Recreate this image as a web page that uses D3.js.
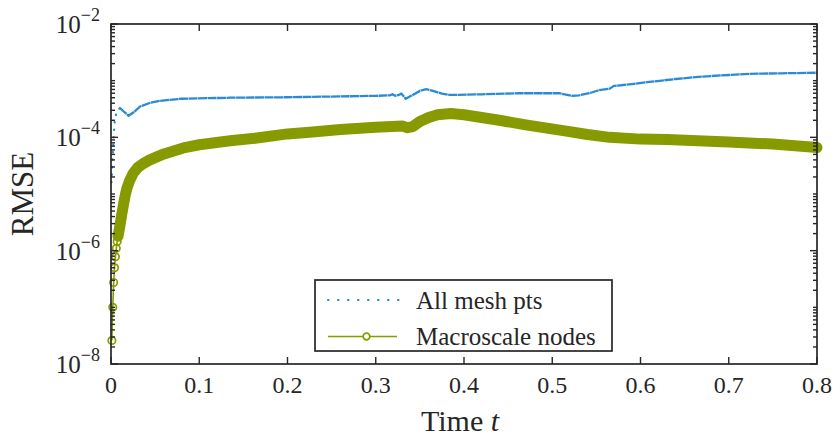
<!DOCTYPE html>
<html>
<head>
<meta charset="utf-8">
<script src="https://cdn.jsdelivr.net/npm/d3@7"></script>
<style>
  body { margin: 0; background: #fff; }
  text { font-family: "Liberation Serif", "DejaVu Serif", serif; fill: #262626; }
</style>
</head>
<body>
<svg id="chart" width="834" height="438"></svg>
<script>
// ticks
const xTicks = [0, 0.1, 0.2, 0.3, 0.4, 0.5, 0.6, 0.7, 0.8];
const yTickExps = [-8, -6, -4, -2];

// "All mesh pts" (blue, dotted)
const meshT = [0.0005, 0.002, 0.003, 0.004, 0.006, 0.010, 0.015, 0.020, 0.026, 0.033, 0.045, 0.055, 0.080,
  0.135, 0.200, 0.300, 0.316, 0.319, 0.322, 0.326, 0.329, 0.334, 0.340, 0.350, 0.357, 0.365, 0.375, 0.384,
  0.420, 0.463, 0.508, 0.523, 0.530, 0.542, 0.553, 0.565, 0.570, 0.578, 0.590, 0.610, 0.640, 0.666, 0.700,
  0.723, 0.760, 0.800];
const meshErr = [1.6e-5, 5.0e-5, 1.0e-4, 1.8e-4, 2.7e-4, 3.3e-4, 2.8e-4, 2.4e-4, 2.8e-4, 3.5e-4, 4.1e-4, 4.4e-4, 4.8e-4,
  5.0e-4, 5.1e-4, 5.4e-4, 5.5e-4, 5.75e-4, 5.4e-4, 5.6e-4, 5.9e-4, 4.8e-4, 5.4e-4, 6.6e-4, 7.1e-4, 6.6e-4, 5.9e-4, 5.6e-4,
  5.75e-4, 6.0e-4, 6.0e-4, 5.4e-4, 5.5e-4, 6.0e-4, 6.8e-4, 7.2e-4, 8.1e-4, 8.3e-4, 8.7e-4, 9.5e-4, 1.07e-3, 1.17e-3, 1.26e-3,
  1.32e-3, 1.35e-3, 1.38e-3];

// "Macroscale nodes" (green, circles)
const nodeT = [0.001, 0.002, 0.003, 0.004, 0.005, 0.006, 0.007, 0.008, 0.009, 0.010, 0.012, 0.014, 0.016, 0.018,
  0.021, 0.025, 0.030, 0.036, 0.044, 0.060, 0.082, 0.100, 0.135, 0.160, 0.200, 0.225, 0.260, 0.300, 0.330, 0.336,
  0.342, 0.350, 0.360, 0.370, 0.385, 0.400, 0.440, 0.470, 0.516, 0.540, 0.565, 0.600, 0.630, 0.700, 0.750, 0.800];
const nodeErr = [2.6e-8, 1.0e-7, 2.75e-7, 5.0e-7, 7.8e-7, 1.1e-6, 1.45e-6, 1.8e-6, 2.2e-6, 2.7e-6, 4.2e-6, 6.3e-6, 9.3e-6, 1.26e-5,
  1.7e-5, 2.3e-5, 2.9e-5, 3.4e-5, 4.0e-5, 5.1e-5, 6.5e-5, 7.4e-5, 8.7e-5, 9.5e-5, 1.15e-4, 1.23e-4, 1.38e-4, 1.51e-4, 1.58e-4, 1.48e-4,
  1.55e-4, 1.9e-4, 2.24e-4, 2.5e-4, 2.63e-4, 2.5e-4, 2.0e-4, 1.66e-4, 1.29e-4, 1.12e-4, 1.0e-4, 9.3e-5, 9.2e-5, 8.3e-5, 7.6e-5, 6.6e-5];

const legendLabels = ['All mesh pts', 'Macroscale nodes'];
const blue = '#2a8ad5', green = '#879a00', ink = '#262626';

const svg = d3.select('#chart');
const pL = 111, pR = 817, pT = 24, pB = 364;
const x = d3.scaleLinear().domain([0, 0.8]).range([pL, pR]);
const y = d3.scaleLog().domain([1e-8, 1e-2]).range([pB, pT]);

const mesh = meshT.map((t, i) => [t, meshErr[i]]);
const nodes = nodeT.map((t, i) => [t, nodeErr[i]]);
const line = d3.line().x(d => x(d[0])).y(d => y(d[1]));

const plot = svg.append('g');
// green: dense markers merge into a band
plot.append('path').datum(nodes.filter(d => d[0] >= 0.008))
  .attr('d', line).attr('fill', 'none').attr('stroke', green)
  .attr('stroke-width', 11).attr('stroke-linecap', 'round').attr('stroke-linejoin', 'round');
plot.append('path').datum(nodes).attr('d', line)
  .attr('fill', 'none').attr('stroke', green).attr('stroke-width', 1.6);
plot.selectAll('circle.node').data(nodes).enter().append('circle')
  .attr('class', 'node').attr('cx', d => x(d[0])).attr('cy', d => y(d[1])).attr('r', 3.7)
  .attr('fill', 'none').attr('stroke', green).attr('stroke-width', 1.7);

// blue dotted line
plot.append('path').datum(mesh.filter(d => d[0] <= 0.010)).attr('d', line)
  .attr('fill', 'none').attr('stroke', blue).attr('stroke-width', 2.2)
  .attr('stroke-dasharray', '0.5,7').attr('stroke-linecap', 'round');
plot.append('path').datum(mesh.filter(d => d[0] >= 0.010)).attr('d', line)
  .attr('fill', 'none').attr('stroke', blue).attr('stroke-width', 2.3)
  .attr('stroke-dasharray', '9,0.5');

// axes box
const ax = svg.append('g').attr('stroke', ink).attr('fill', 'none');
ax.append('rect').attr('x', pL).attr('y', pT).attr('width', pR - pL).attr('height', pB - pT)
  .attr('stroke-width', 1.7);

// x ticks
xTicks.forEach(t => {
  ax.append('line').attr('x1', x(t)).attr('x2', x(t)).attr('y1', pB).attr('y2', pB - 7).attr('stroke-width', 1.4);
  ax.append('line').attr('x1', x(t)).attr('x2', x(t)).attr('y1', pT).attr('y2', pT + 7).attr('stroke-width', 1.4);
});
svg.append('g').selectAll('text').data(xTicks).enter().append('text')
  .attr('x', d => x(d)).attr('y', 393).attr('text-anchor', 'middle').attr('font-size', 24)
  .text(d => d3.format('~g')(d));

// y ticks (log, with minor)
const minor = [];
for (let e = -8; e < -2; e++) for (let m = 1; m < 10; m++) minor.push(m * Math.pow(10, e));
minor.push(1e-2);
minor.forEach(v => {
  const major = yTickExps.some(e => Math.abs(Math.log10(v) - e) < 1e-9);
  const len = major ? 7 : 4;
  ax.append('line').attr('x1', pL).attr('x2', pL + len).attr('y1', y(v)).attr('y2', y(v)).attr('stroke-width', 1.4);
  ax.append('line').attr('x1', pR).attr('x2', pR - len).attr('y1', y(v)).attr('y2', y(v)).attr('stroke-width', 1.4);
});
const yl = svg.append('g').selectAll('text').data(yTickExps).enter().append('text')
  .attr('x', 100).attr('y', d => y(Math.pow(10, d)) + 9).attr('text-anchor', 'end').attr('font-size', 25);
yl.append('tspan').text('10');
yl.append('tspan').attr('dy', -12).attr('font-size', 18).text(d => '\u2212' + Math.abs(d));

// axis labels
svg.append('text').attr('x', 460).attr('y', 431).attr('text-anchor', 'middle').attr('font-size', 30)
  .html('Time <tspan font-style="italic">t</tspan>');
svg.append('text').attr('transform', 'translate(33,' + (pT + pB) / 2 + ') rotate(-90)')
  .attr('text-anchor', 'middle').attr('font-size', 31).text('RMSE');

// legend
const lg = svg.append('g');
lg.append('rect').attr('x', 315).attr('y', 280).attr('width', 297).attr('height', 71)
  .attr('fill', '#fff').attr('stroke', ink).attr('stroke-width', 1.7);
lg.append('line').attr('x1', 328).attr('x2', 405).attr('y1', 300).attr('y2', 300)
  .attr('stroke', blue).attr('stroke-width', 2.2).attr('stroke-dasharray', '0.5,9.5').attr('stroke-linecap', 'round');
lg.append('line').attr('x1', 328).attr('x2', 397).attr('y1', 336.5).attr('y2', 336.5)
  .attr('stroke', green).attr('stroke-width', 1.7);
lg.append('circle').attr('cx', 366.5).attr('cy', 336.5).attr('r', 3.3)
  .attr('fill', '#fff').attr('stroke', green).attr('stroke-width', 1.7);
lg.selectAll('text').data(legendLabels).enter().append('text')
  .attr('x', 416).attr('y', (d, i) => 308.5 + i * 36.5).attr('font-size', 25).text(d => d);
</script>
</body>
</html>
